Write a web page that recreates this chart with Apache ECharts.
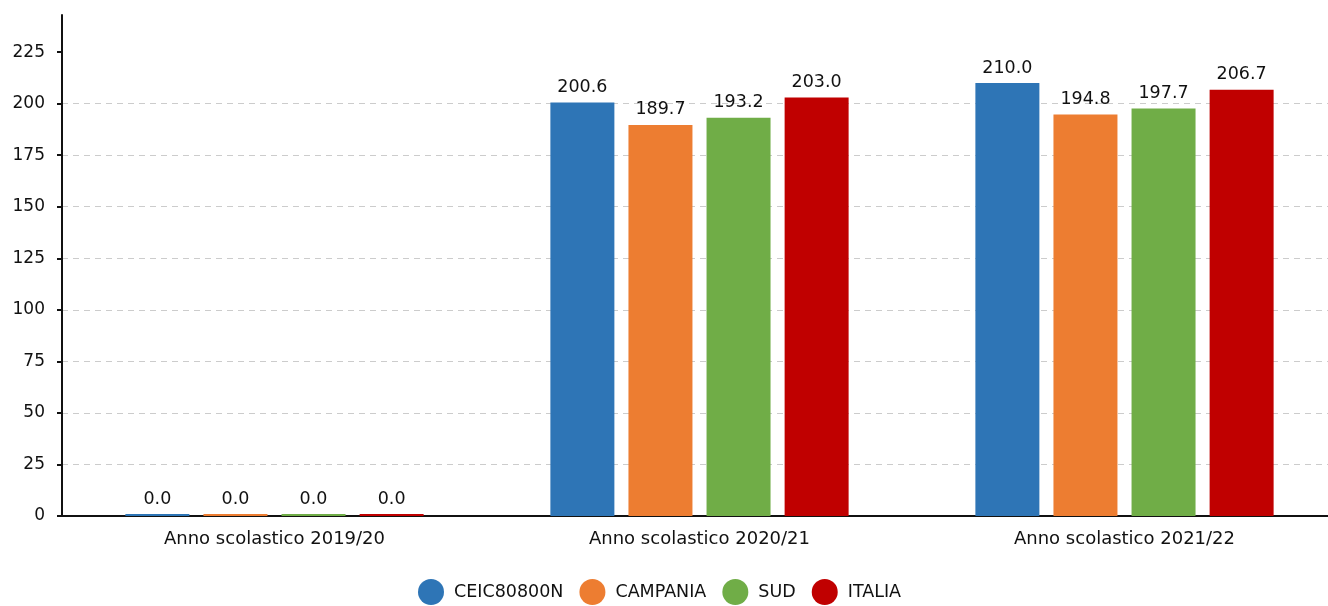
<!DOCTYPE html>
<html><head><meta charset="utf-8">
<script src="https://cdn.jsdelivr.net/npm/echarts@6/dist/echarts.min.js"></script>
<style>html,body{margin:0;padding:0;background:#fff}#c{width:1328px;height:606px}</style>
</head><body><div id="c"></div>
<script>
const categories = ['Anno scolastico 2019/20', 'Anno scolastico 2020/21', 'Anno scolastico 2021/22'];
const seriesNames = ['CEIC80800N', 'CAMPANIA', 'SUD', 'ITALIA'];
const ceic = [0.0, 200.6, 210.0];
const campania = [0.0, 189.7, 194.8];
const sud = [0.0, 193.2, 197.7];
const italia = [0.0, 203.0, 206.7];
const yTicks = [0, 25, 50, 75, 100, 125, 150, 175, 200, 225];
const colors = ['#2E75B6', '#ED7D31', '#70AD47', '#C00000'];
const values = [ceic, campania, sud, italia];
const font = "'DejaVu Sans', sans-serif";

const chart = echarts.init(document.getElementById('c'), null, {renderer: 'canvas'});
chart.setOption({
  animation: false,
  textStyle: {fontFamily: font},
  grid: {left: 62, width: 1275, top: 15, bottom: 90, containLabel: false, outerBoundsMode: 'none'},
  legend: {
    bottom: 1, left: 418, padding: 0, icon: 'circle', itemWidth: 26, itemHeight: 26, itemGap: 16,
    textStyle: {fontFamily: font, fontSize: 17.5, color: '#111', padding: [0, 0, 0, 5]},
    data: seriesNames
  },
  xAxis: {
    type: 'category', data: categories,
    axisLine: {show: true, lineStyle: {color: '#111', width: 2}},
    axisTick: {show: false},
    axisLabel: {fontFamily: font, fontSize: 18, color: '#111', margin: 14}
  },
  yAxis: {
    type: 'value', min: 0, max: 243, interval: 25,
    axisLine: {show: true, lineStyle: {color: '#111', width: 2}},
    axisTick: {show: true, length: 5, lineStyle: {color: '#111', width: 2}, customValues: yTicks},
    axisLabel: {fontFamily: font, fontSize: 17, color: '#111', margin: 17, customValues: yTicks},
    splitLine: {show: true, showMaxLine: false, lineStyle: {color: '#cccccc', type: [6, 5], width: 1}}
  },
  series: seriesNames.map((n, i) => ({
    name: n, type: 'bar', data: values[i], barWidth: 64, barGap: '22%', barMinHeight: 2,
    itemStyle: {color: colors[i]},
    label: {show: true, position: 'top', distance: 6, fontFamily: font, fontSize: 17.5, color: '#111',
      formatter: p => p.value.toFixed(1)}
  }))
});
</script></body></html>
